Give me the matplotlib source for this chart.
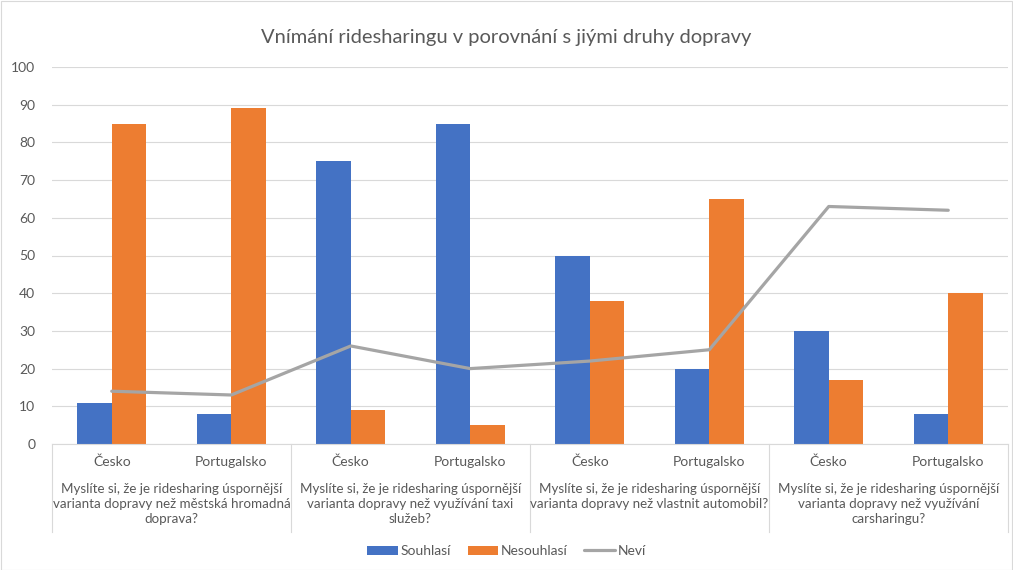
import numpy as np
import matplotlib.pyplot as plt
from matplotlib.patches import Rectangle

plt.rcParams['font.family'] = ['Lato', 'DejaVu Sans']

countries = ["Česko", "Portugalsko"] * 4
questions = [
    "Myslíte si, že je ridesharing úspornější\nvarianta dopravy než městská hromadná\ndoprava?",
    "Myslíte si, že je ridesharing úspornější\nvarianta dopravy než využívání taxi\nslužeb?",
    "Myslíte si, že je ridesharing úspornější\nvarianta dopravy než vlastnit automobil?",
    "Myslíte si, že je ridesharing úspornější\nvarianta dopravy než využívání\ncarsharingu?",
]
souhlasi = [11, 8, 75, 85, 50, 20, 30, 8]
nesouhlasi = [85, 89, 9, 5, 38, 65, 17, 40]
nevi = [14, 13, 26, 20, 22, 25, 63, 62]

BLUE, ORANGE, GRAY = "#4472C4", "#ED7D31", "#A5A5A5"
TXT = "#595959"
W, H = 1013, 570

fig = plt.figure(figsize=(W / 100, H / 100), dpi=100)
fig.patches.append(Rectangle((0.5 / W, 0.5 / H), 1 - 1.5 / W, 1 - 1.5 / H, transform=fig.transFigure,
                             fill=False, edgecolor="#d9d9d9", linewidth=0.8))
ax = fig.add_axes([52 / W, (H - 444) / H, (1008 - 52) / W, (444 - 67) / H])

x = np.arange(len(countries))
bw = 0.29
b1 = ax.bar(x - bw / 2, souhlasi, bw, color=BLUE, label="Souhlasí", zorder=2)
b2 = ax.bar(x + bw / 2, nesouhlasi, bw, color=ORANGE, label="Nesouhlasí", zorder=2)
l1, = ax.plot(x, nevi, color=GRAY, lw=2.3, label="Neví", zorder=3, solid_capstyle="round")

ax.set_xlim(-0.5, len(countries) - 0.5)
ax.set_ylim(0, 100)
ax.set_yticks(range(0, 101, 10))
ax.yaxis.grid(True, color="#d9d9d9", lw=0.8, zorder=0)
ax.set_axisbelow(True)
for s in ("top", "right", "left"):
    ax.spines[s].set_visible(False)
ax.spines["bottom"].set_color("#d9d9d9")
ax.tick_params(axis="y", length=0, labelsize=10, colors=TXT, pad=12)
ax.tick_params(axis="x", length=0, labelbottom=False)

# two-level category axis
trans = ax.get_xaxis_transform()
for i, c in enumerate(countries):
    ax.text(i, -18 / 377, c, transform=trans, ha="center", va="center", fontsize=10, color=TXT)
for g, q in enumerate(questions):
    ax.text(2 * g + 0.5, -39 / 377, q, transform=trans, ha="center", va="top", fontsize=9.6,
            color=TXT, linespacing=1.32)
for b in np.arange(-0.5, len(countries), 2):
    ax.plot([b, b], [0, -88 / 377], transform=trans, color="#d9d9d9", lw=0.8, clip_on=False)

fig.text(0.5, 1 - 38 / H, "Vnímání ridesharingu v porovnání s jiými druhy dopravy",
         ha="center", va="center", fontsize=14.5, color=TXT)
fig.legend([b1, b2, l1], ["Souhlasí", "Nesouhlasí", "Neví"], loc="center",
           bbox_to_anchor=(0.5, 1 - 551 / H), ncol=3, frameon=False,
           fontsize=10, labelcolor=TXT, handlelength=2.2, handleheight=0.6, columnspacing=1.2,
           handletextpad=0.2)

fig.savefig("out.png", dpi=100)
